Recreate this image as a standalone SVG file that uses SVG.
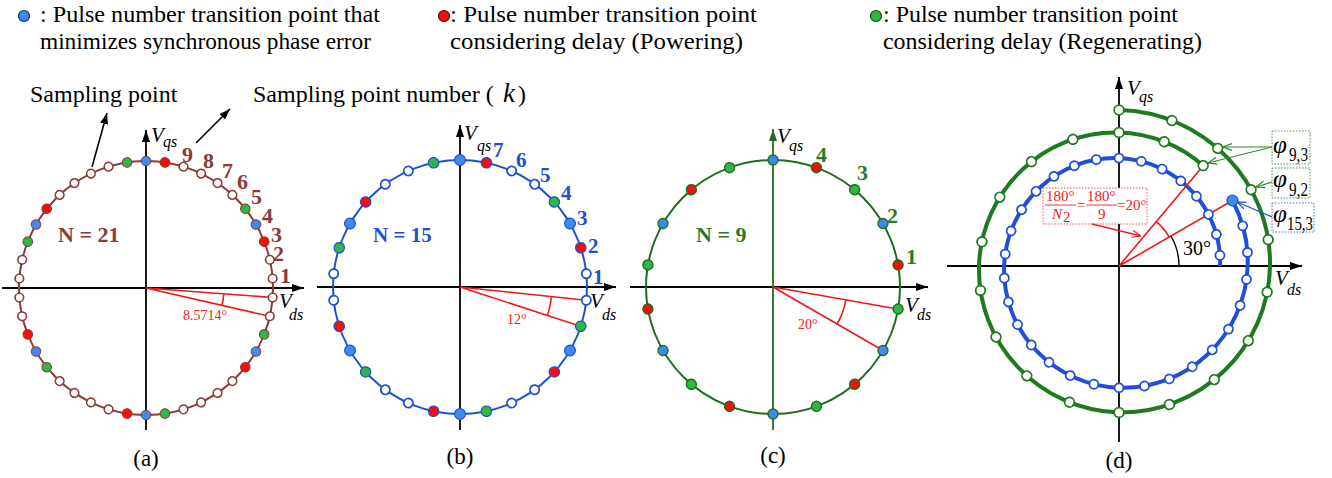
<svg xmlns="http://www.w3.org/2000/svg" width="1332" height="478" viewBox="0 0 1332 478">
<defs>
<style>
text{font-family:"Liberation Serif","Times New Roman",serif;fill:#000}
.lg{font-size:23.5px}
.cap{font-size:23px;text-anchor:middle}
.V{font-size:21px;font-style:italic}
.s{font-size:16px;font-style:italic}
.ax{stroke:#000;stroke-width:1.8;fill:none}
.na{font-weight:bold;font-size:22px;fill:#8B3A36}
.nb{font-weight:bold;font-size:21px;fill:#1E50D2}
.nc{font-weight:bold;font-size:22px;fill:#2A7A2A}
.ang{font-size:14px;fill:#F02020}
.rl{stroke:#F01818;stroke-width:1.6;fill:none}
.box{fill:#fff;stroke-width:0.9;stroke-dasharray:1.5 1.5}
.phi{font-size:25px;font-style:italic}
.ps{font-size:18px}
.rt{font-size:15px;fill:#F02020}
</style>
<marker id="ah" viewBox="0 0 12 8" refX="12" refY="4" markerWidth="12" markerHeight="8" markerUnits="userSpaceOnUse" orient="auto"><path d="M0,0L12,4L0,8z" fill="#000"/></marker>
<marker id="ahg" viewBox="0 0 12 8" refX="12" refY="4" markerWidth="12" markerHeight="8" markerUnits="userSpaceOnUse" orient="auto"><path d="M0,0L12,4L0,8z" fill="#1E6E1E"/></marker>
<marker id="ah2" viewBox="0 0 11 8" refX="11" refY="4" markerWidth="11" markerHeight="8" markerUnits="userSpaceOnUse" orient="auto"><path d="M0,0L11,4L0,8z" fill="#000"/></marker>
<marker id="vg" viewBox="0 0 9 8" refX="9" refY="4" markerWidth="9" markerHeight="8" markerUnits="userSpaceOnUse" orient="auto"><path d="M0,0.5L9,4L0,7.5" fill="none" stroke="#2A8A2A" stroke-width="1.2"/></marker>
<marker id="vb" viewBox="0 0 9 8" refX="9" refY="4" markerWidth="9" markerHeight="8" markerUnits="userSpaceOnUse" orient="auto"><path d="M0,0.5L9,4L0,7.5" fill="none" stroke="#2050D0" stroke-width="1.2"/></marker>
<marker id="vr" viewBox="0 0 9 8" refX="9" refY="4" markerWidth="9" markerHeight="8" markerUnits="userSpaceOnUse" orient="auto"><path d="M0,0.5L9,4L0,7.5" fill="none" stroke="#F02020" stroke-width="1.2"/></marker>
<circle id="aO" cx="127" cy="0" r="4.3" fill="#fff" stroke="#8B3A36" stroke-width="1.6"/>
<circle id="aR" cx="127" cy="0" r="4.8" fill="#FF0A0A" stroke="#8B3A36" stroke-width="1"/>
<circle id="aB" cx="127" cy="0" r="4.8" fill="#3D8BEF" stroke="#8B3A36" stroke-width="1"/>
<circle id="aG" cx="127" cy="0" r="4.8" fill="#2DB843" stroke="#8B3A36" stroke-width="1"/>
<circle id="bO" cx="127" cy="0" r="4.6" fill="#fff" stroke="#1E50D2" stroke-width="1.8"/>
<circle id="bR" cx="127" cy="0" r="5.2" fill="#FF0A0A" stroke="#1E50D2" stroke-width="1.2"/>
<circle id="bB" cx="127" cy="0" r="5.4" fill="#3D8BEF" stroke="#1E50D2" stroke-width="1.2"/>
<circle id="bG" cx="127" cy="0" r="5.2" fill="#2DB843" stroke="#1E50D2" stroke-width="1.2"/>
<circle id="cR" cx="127" cy="0" r="5" fill="#FF0A0A" stroke="#1E6E1E" stroke-width="1.4"/>
<circle id="cB" cx="127" cy="0" r="5" fill="#3D8BEF" stroke="#1E6E1E" stroke-width="1.4"/>
<circle id="cG" cx="127" cy="0" r="5" fill="#2DB843" stroke="#1E6E1E" stroke-width="1.4"/>
<circle id="dO" r="4.5" fill="#fff" stroke="#1F4FD8" stroke-width="1.8"/>
<circle id="dG" r="4.8" fill="#fff" stroke="#1E7A1E" stroke-width="1.8"/>
</defs>
<rect width="1332" height="478" fill="#fff"/>

<g id="legend">
<g id="legend-blue">
<circle cx="24" cy="16" r="5.5" fill="#3D8BEF" stroke="#1a2a5a" stroke-width="1.2"/>
<text class="lg" x="40" y="22" textLength="340" lengthAdjust="spacingAndGlyphs">: Pulse number transition point that</text>
<text class="lg" x="40" y="49" textLength="331" lengthAdjust="spacingAndGlyphs">minimizes synchronous phase error</text>
</g>
<g id="legend-red">
<circle cx="444" cy="16" r="5.5" fill="#FF0A0A" stroke="#5a0a0a" stroke-width="1.2"/>
<text class="lg" x="450" y="22" textLength="307" lengthAdjust="spacingAndGlyphs">: Pulse number transition point</text>
<text class="lg" x="450" y="49" textLength="293" lengthAdjust="spacingAndGlyphs">considering delay (Powering)</text>
</g>
<g id="legend-green">
<circle cx="876" cy="16" r="5.5" fill="#2DB843" stroke="#1a4a1a" stroke-width="1.2"/>
<text class="lg" x="883" y="22" textLength="295" lengthAdjust="spacingAndGlyphs">: Pulse number transition point</text>
<text class="lg" x="883" y="49" textLength="319" lengthAdjust="spacingAndGlyphs">considering delay (Regenerating)</text>
</g>
</g>

<g id="panel-a">
<line class="ax" x1="2" y1="288" x2="304" y2="288" marker-end="url(#ah)"/>
<line class="ax" x1="146" y1="430" x2="146" y2="130" marker-end="url(#ah)"/>
<circle cx="146" cy="288" r="127" fill="none" stroke="#8B3A36" stroke-width="2"/>
<path class="rl" d="M146,288L267.7,297.1M146,288L264.9,315.2M223.8,293.8A78,78 0 0 1 222,305.4"/>
<g transform="translate(146,288)">
<use href="#aO" transform="rotate(-4.2857)"/><use href="#aO" transform="rotate(-12.8571)"/><use href="#aR" transform="rotate(-21.4286)"/><use href="#aB" transform="rotate(-30)"/><use href="#aG" transform="rotate(-38.5714)"/><use href="#aO" transform="rotate(-47.1429)"/><use href="#aO" transform="rotate(-55.7143)"/><use href="#aO" transform="rotate(-64.2857)"/><use href="#aO" transform="rotate(-72.8571)"/><use href="#aR" transform="rotate(-81.4286)"/><use href="#aB" transform="rotate(-90)"/><use href="#aG" transform="rotate(-98.5714)"/><use href="#aO" transform="rotate(-107.1429)"/><use href="#aO" transform="rotate(-115.7143)"/><use href="#aO" transform="rotate(-124.2857)"/><use href="#aO" transform="rotate(-132.8571)"/><use href="#aR" transform="rotate(-141.4286)"/><use href="#aB" transform="rotate(-150)"/><use href="#aG" transform="rotate(-158.5714)"/><use href="#aO" transform="rotate(-167.1429)"/><use href="#aO" transform="rotate(-175.7143)"/><use href="#aO" transform="rotate(-184.2857)"/><use href="#aO" transform="rotate(-192.8571)"/><use href="#aR" transform="rotate(-201.4286)"/><use href="#aB" transform="rotate(-210)"/><use href="#aG" transform="rotate(-218.5714)"/><use href="#aO" transform="rotate(-227.1429)"/><use href="#aO" transform="rotate(-235.7143)"/><use href="#aO" transform="rotate(-244.2857)"/><use href="#aO" transform="rotate(-252.8571)"/><use href="#aR" transform="rotate(-261.4286)"/><use href="#aB" transform="rotate(-270)"/><use href="#aG" transform="rotate(-278.5714)"/><use href="#aO" transform="rotate(-287.1429)"/><use href="#aO" transform="rotate(-295.7143)"/><use href="#aO" transform="rotate(-304.2857)"/><use href="#aO" transform="rotate(-312.8571)"/><use href="#aR" transform="rotate(-321.4286)"/><use href="#aB" transform="rotate(-330)"/><use href="#aG" transform="rotate(-338.5714)"/><use href="#aO" transform="rotate(-347.1429)"/><use href="#aO" transform="rotate(-355.7143)"/>
</g>
<text class="V" x="151" y="142">V</text><text class="s" x="163" y="147">qs</text>
<text class="V" x="279" y="308">V</text><text class="s" x="289" y="320">ds</text>
<text class="na" x="182" y="162">9</text><text class="na" x="203" y="168">8</text><text class="na" x="222" y="178">7</text><text class="na" x="237" y="189">6</text><text class="na" x="251" y="204">5</text><text class="na" x="262" y="223">4</text><text class="na" x="271" y="242">3</text><text class="na" x="273" y="261">2</text><text class="na" x="280" y="283">1</text>
<text class="na" x="58" y="242" font-size="18">N = 21</text>
<text class="ang" x="183" y="320" font-size="13">8.5714°</text>
<text class="cap" x="146" y="466">(a)</text>
<text x="30" y="102" font-size="24">Sampling point</text>
<text x="253" y="102" font-size="24">Sampling point number (</text><text x="503" y="102" font-size="27" font-style="italic">k</text><text x="518" y="102" font-size="24">)</text>
</g>

<g id="panel-b">
<line class="ax" x1="317" y1="287" x2="616" y2="287" marker-end="url(#ah)"/>
<line class="ax" x1="460" y1="430" x2="460" y2="125" marker-end="url(#ah)"/>
<circle cx="460" cy="287" r="127" fill="none" stroke="#1E50D2" stroke-width="2"/>
<path class="rl" d="M460,287L581.3,299.8M460,287L576,324.7M551.5,296.6A92,92 0 0 1 547.5,315.4"/>
<g transform="translate(460,287)">
<use href="#bO" transform="rotate(-6)"/><use href="#bR" transform="rotate(-18)"/><use href="#bB" transform="rotate(-30)"/><use href="#bG" transform="rotate(-42)"/><use href="#bO" transform="rotate(-54)"/><use href="#bO" transform="rotate(-66)"/><use href="#bR" transform="rotate(-78)"/><use href="#bB" transform="rotate(-90)"/><use href="#bG" transform="rotate(-102)"/><use href="#bO" transform="rotate(-114)"/><use href="#bO" transform="rotate(-126)"/><use href="#bR" transform="rotate(-138)"/><use href="#bB" transform="rotate(-150)"/><use href="#bG" transform="rotate(-162)"/><use href="#bO" transform="rotate(-174)"/><use href="#bO" transform="rotate(-186)"/><use href="#bR" transform="rotate(-198)"/><use href="#bB" transform="rotate(-210)"/><use href="#bG" transform="rotate(-222)"/><use href="#bO" transform="rotate(-234)"/><use href="#bO" transform="rotate(-246)"/><use href="#bR" transform="rotate(-258)"/><use href="#bB" transform="rotate(-270)"/><use href="#bG" transform="rotate(-282)"/><use href="#bO" transform="rotate(-294)"/><use href="#bO" transform="rotate(-306)"/><use href="#bR" transform="rotate(-318)"/><use href="#bB" transform="rotate(-330)"/><use href="#bG" transform="rotate(-342)"/><use href="#bO" transform="rotate(-354)"/>
</g>
<text class="V" x="464" y="140">V</text><text class="s" x="477" y="151">qs</text>
<text class="V" x="590" y="308">V</text><text class="s" x="602" y="320">ds</text>
<text class="nb" x="493" y="157">7</text><text class="nb" x="516" y="167">6</text><text class="nb" x="540" y="182">5</text><text class="nb" x="561" y="200">4</text><text class="nb" x="577" y="225">3</text><text class="nb" x="588" y="253">2</text><text class="nb" x="593" y="284">1</text>
<text class="nb" x="373" y="242" font-size="18">N = 15</text>
<text class="ang" x="507" y="324">12°</text>
<text class="cap" x="460" y="464">(b)</text>
</g>

<g id="panel-c">
<line class="ax" x1="630" y1="287" x2="928" y2="287" marker-end="url(#ah)"/>
<line x1="773" y1="430" x2="773" y2="129" stroke="#1E6E1E" stroke-width="1.8" marker-end="url(#ahg)"/>
<circle cx="773" cy="287" r="127" fill="none" stroke="#1E6E1E" stroke-width="2"/>
<path class="rl" d="M773,287L896.1,308.7M773,287L881.3,349.5M845.9,299.9A74,74 0 0 1 837.1,324"/>
<g transform="translate(773,287)">
<use href="#cR" transform="rotate(-10)"/><use href="#cB" transform="rotate(-30)"/><use href="#cG" transform="rotate(-50)"/><use href="#cR" transform="rotate(-70)"/><use href="#cB" transform="rotate(-90)"/><use href="#cG" transform="rotate(-110)"/><use href="#cR" transform="rotate(-130)"/><use href="#cB" transform="rotate(-150)"/><use href="#cG" transform="rotate(-170)"/><use href="#cR" transform="rotate(-190)"/><use href="#cB" transform="rotate(-210)"/><use href="#cG" transform="rotate(-230)"/><use href="#cR" transform="rotate(-250)"/><use href="#cB" transform="rotate(-270)"/><use href="#cG" transform="rotate(-290)"/><use href="#cR" transform="rotate(-310)"/><use href="#cB" transform="rotate(-330)"/><use href="#cG" transform="rotate(-350)"/>
</g>
<text class="V" x="777" y="143">V</text><text class="s" x="789" y="151">qs</text>
<text class="V" x="905" y="312">V</text><text class="s" x="917" y="320">ds</text>
<text class="nc" x="816" y="162">4</text><text class="nc" x="857" y="180">3</text><text class="nc" x="887" y="223">2</text><text class="nc" x="906" y="264">1</text>
<text class="nc" x="696" y="242" font-size="18">N = 9</text>
<text class="ang" x="798" y="329">20°</text>
<text class="cap" x="773" y="463">(c)</text>
</g>

<g id="panel-d">
<line class="ax" x1="947" y1="266" x2="1302" y2="266" marker-end="url(#ah)"/>
<line class="ax" x1="1119" y1="442" x2="1119" y2="77" marker-end="url(#ah)"/>
<path d="M1203.2,165.65A132.2,132.2 0 0 0 1119,132.5A135,135 0 0 0 1022.48,169.48A138.2,138.2 0 0 0 979,266A141.5,141.5 0 0 0 1017.88,367.12A144.7,144.7 0 0 0 1119,412.5A147.5,147.5 0 0 0 1224.01,371.01A149.7,149.7 0 0 0 1270,266A152.1,152.1 0 0 0 1227.4,157.6A154.6,154.6 0 0 0 1119,110" fill="none" stroke="#1E7A1E" stroke-width="4"/>
<path d="M1220,266A102.7,102.7 0 0 0 1192.86,192.14A106.2,106.2 0 0 0 1119,158.08A109.7,109.7 0 0 0 1040.24,187.24A113.1,113.1 0 0 0 1004.16,266A116.6,116.6 0 0 0 1035.35,349.65A120,120 0 0 0 1119,387.76A123.5,123.5 0 0 0 1207.54,354.54A127,127 0 0 0 1247.68,266A129.8,129.8 0 0 0 1232.45,200.5" fill="none" stroke="#1F4FD8" stroke-width="4"/>
<path class="rl" d="M1119,266L1232.45,200.5M1119,266L1203.2,165.65M1169.23,237A58,58 0 0 0 1156.28,221.57"/>
<path d="M1179,266A60,60 0 0 0 1170.96,236" fill="none" stroke="#000" stroke-width="1.4"/>
<g transform="translate(1119,266)">
<use href="#dO" transform="rotate(-6) translate(101.46 0)"/><use href="#dO" transform="rotate(-18) translate(102.38 0)"/><use href="#dO" transform="rotate(-30) translate(103.31 0)"/><use href="#dO" transform="rotate(-42) translate(104.23 0)"/><use href="#dO" transform="rotate(-54) translate(105.15 0)"/><use href="#dO" transform="rotate(-66) translate(106.08 0)"/><use href="#dO" transform="rotate(-78) translate(107 0)"/><use href="#dO" transform="rotate(-90) translate(107.92 0)"/><use href="#dO" transform="rotate(-102) translate(108.84 0)"/><use href="#dO" transform="rotate(-114) translate(109.77 0)"/><use href="#dO" transform="rotate(-126) translate(110.69 0)"/><use href="#dO" transform="rotate(-138) translate(111.61 0)"/><use href="#dO" transform="rotate(-150) translate(112.54 0)"/><use href="#dO" transform="rotate(-162) translate(113.46 0)"/><use href="#dO" transform="rotate(-174) translate(114.38 0)"/><use href="#dO" transform="rotate(-186) translate(115.3 0)"/><use href="#dO" transform="rotate(-198) translate(116.23 0)"/><use href="#dO" transform="rotate(-210) translate(117.15 0)"/><use href="#dO" transform="rotate(-222) translate(118.07 0)"/><use href="#dO" transform="rotate(-234) translate(119 0)"/><use href="#dO" transform="rotate(-246) translate(119.92 0)"/><use href="#dO" transform="rotate(-258) translate(120.84 0)"/><use href="#dO" transform="rotate(-270) translate(121.76 0)"/><use href="#dO" transform="rotate(-282) translate(122.69 0)"/><use href="#dO" transform="rotate(-294) translate(123.61 0)"/><use href="#dO" transform="rotate(-306) translate(124.53 0)"/><use href="#dO" transform="rotate(-318) translate(125.45 0)"/><use href="#dO" transform="rotate(-330) translate(126.38 0)"/><use href="#dO" transform="rotate(-342) translate(127.3 0)"/><use href="#dO" transform="rotate(-354) translate(128.22 0)"/><use href="#dO" transform="rotate(-366) translate(129.15 0)"/><use href="#dO" transform="rotate(-378) translate(130.07 0)"/>
<circle cx="113.45" cy="-65.5" r="5.5" fill="#3D8BEF" stroke="#1F4FD8" stroke-width="1.2"/>
<use href="#dG" transform="rotate(-50) translate(131 0)"/><use href="#dG" transform="rotate(-70) translate(132.25 0)"/><use href="#dG" transform="rotate(-90) translate(133.5 0)"/><use href="#dG" transform="rotate(-110) translate(134.83 0)"/><use href="#dG" transform="rotate(-130) translate(136.17 0)"/><use href="#dG" transform="rotate(-150) translate(137.67 0)"/><use href="#dG" transform="rotate(-170) translate(139.22 0)"/><use href="#dG" transform="rotate(-190) translate(140.67 0)"/><use href="#dG" transform="rotate(-210) translate(142 0)"/><use href="#dG" transform="rotate(-230) translate(143.39 0)"/><use href="#dG" transform="rotate(-250) translate(144.94 0)"/><use href="#dG" transform="rotate(-270) translate(146.5 0)"/><use href="#dG" transform="rotate(-290) translate(147.39 0)"/><use href="#dG" transform="rotate(-310) translate(148.28 0)"/><use href="#dG" transform="rotate(-330) translate(149.33 0)"/><use href="#dG" transform="rotate(-350) translate(150.44 0)"/><use href="#dG" transform="rotate(-370) translate(151.51 0)"/><use href="#dG" transform="rotate(-390) translate(152.53 0)"/><use href="#dG" transform="rotate(-410) translate(153.6 0)"/><use href="#dG" transform="rotate(-430) translate(154.8 0)"/><use href="#dG" transform="rotate(-450) translate(156 0)"/>
</g>
<text class="V" x="1127" y="95" font-size="20">V</text><text class="s" x="1139" y="102">qs</text>
<text class="V" x="1275" y="285" font-size="20">V</text><text class="s" x="1287" y="295">ds</text>
<text x="1183" y="255" font-size="20">30°</text>
<g id="formula">
<rect class="box" x="1043" y="188" width="104" height="36" stroke="#F04040"/>
<text class="rt" x="1046" y="201">180°</text>
<line x1="1045" y1="205" x2="1076" y2="205" stroke="#F02020" stroke-width="0.9"/>
<text class="rt" x="1052" y="219" font-style="italic">N</text><text class="rt" x="1063" y="222" font-size="11">2</text>
<text class="rt" x="1077" y="210">=</text>
<text class="rt" x="1087" y="201">180°</text>
<line x1="1086" y1="205" x2="1117" y2="205" stroke="#F02020" stroke-width="0.9"/>
<text class="rt" x="1098" y="219">9</text>
<text class="rt" x="1117" y="210">=20°</text>
</g>
<g id="phi93">
<rect class="box" x="1272" y="131" width="38" height="33" stroke="#3A8A3A"/>
<text class="phi" x="1273" y="153">φ</text><text class="ps" x="1289" y="161" textLength="19" lengthAdjust="spacingAndGlyphs">9,3</text>
</g>
<g id="phi92">
<rect class="box" x="1272" y="168" width="38" height="30" stroke="#3A8A3A"/>
<text class="phi" x="1273" y="187">φ</text><text class="ps" x="1289" y="196" textLength="19" lengthAdjust="spacingAndGlyphs">9,2</text>
</g>
<g id="phi153">
<rect class="box" x="1272" y="203" width="42" height="29" stroke="#4060D0"/>
<text class="phi" x="1273" y="222">φ</text><text class="ps" x="1287" y="230" textLength="26" lengthAdjust="spacingAndGlyphs">15,3</text>
</g>
<text class="cap" x="1119" y="468">(d)</text>
</g>

<g id="connectors">
<line x1="92" y1="167" x2="107" y2="113" stroke="#000" stroke-width="1.6" marker-end="url(#ah2)"/>
<line x1="196" y1="143" x2="230" y2="109" stroke="#000" stroke-width="1.6" marker-end="url(#ah2)"/>
<line x1="1272" y1="147" x2="1223" y2="147" stroke="#2A8A2A" stroke-width="1.2" marker-end="url(#vg)"/>
<line x1="1272" y1="147" x2="1208" y2="163" stroke="#2A8A2A" stroke-width="1.2" marker-end="url(#vg)"/>
<line x1="1272" y1="182" x2="1256" y2="187" stroke="#2A8A2A" stroke-width="1.2" marker-end="url(#vg)"/>
<line x1="1272" y1="217" x2="1237" y2="202" stroke="#2050D0" stroke-width="1.2" marker-end="url(#vb)"/>
<line x1="1092" y1="224" x2="1141" y2="236" stroke="#F02020" stroke-width="1.4" marker-end="url(#vr)"/>
</g>
</svg>
